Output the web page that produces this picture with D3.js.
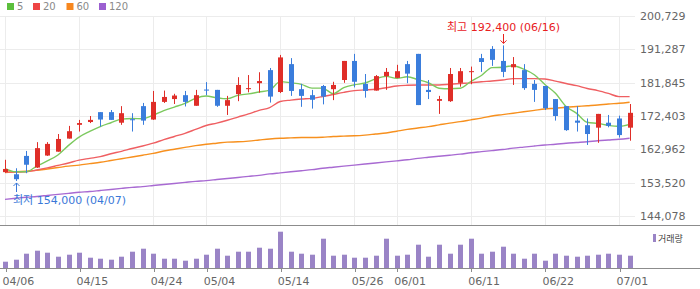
<!DOCTYPE html>
<meta charset="utf-8">
<head>
  <title>Daily candles</title>
</head>

<style>
body {
  margin: 0;
  background: #fff;
}
text {
  font-family: "DejaVu Sans", "Noto Sans CJK KR", sans-serif;
}
.grid line {
  stroke: #ececec;
  shape-rendering: crispEdges;
}
.axis text {
  fill: #666;
  font-size: 11px;
}
.axis path {
  display: none;
}
.axis line {
  stroke: #8c8c8c;
  shape-rendering: crispEdges;
}
.ma {
  fill: none;
  stroke-width: 1.4;
}
</style>

<body>
  <svg id="chart" width="700" height="289"></svg>

  <script src="https://cdnjs.cloudflare.com/ajax/libs/d3/7.8.5/d3.min.js"></script>
  <script>
var dates = ['04/06','04/07','04/08','04/09','04/10','04/13','04/14','04/15','04/16','04/17',
  '04/20','04/21','04/22','04/23','04/24','04/27','04/28','04/29','04/30','05/04',
  '05/06','05/07','05/08','05/11','05/12','05/13','05/14','05/15','05/18','05/19',
  '05/20','05/21','05/22','05/26','05/27','05/28','05/29','06/01','06/02','06/03',
  '06/05','06/08','06/09','06/10','06/11','06/12','06/15','06/16','06/17','06/18',
  '06/19','06/22','06/23','06/24','06/25','06/26','06/29','06/30','07/01','07/02']

var opens = [156500,155900,161100,157800,161200,162300,166000,169900,170700,173500,
  173500,170500,171500,175200,171400,176400,177200,178300,175300,179900,
  179800,175300,178600,180000,181700,185400,179200,187100,180000,178300,
  180900,180000,182600,188000,181500,179600,183700,183200,187100,190000,
  179800,176700,176600,181800,184900,188800,191400,188000,186200,185400,
  181500,180900,177200,175200,171100,169800,169100,170500,171700,169100]

var highs = [160000,157600,162500,165000,165000,167300,169600,171300,172400,173500,
  174100,175200,173200,176100,179500,179600,178700,179500,179800,182000,
  179800,178100,183400,184000,184800,186000,189700,188800,181500,179800,
  181200,182100,188000,190000,184300,184000,186000,186900,188000,190000,
  182600,178100,186000,186000,186400,190000,192200,192400,189100,187100,
  182600,180900,177200,175200,175200,171700,173000,172700,172500,175800]

var lows = [156300,154000,156200,157700,161100,162300,166000,168000,170400,169400,
  171300,169900,168000,169900,171300,176100,175800,175100,175300,178300,
  175000,172700,176600,179100,179000,176200,178900,178100,175000,174500,
  175700,176900,181800,180500,177600,179600,179800,183100,181700,175500,
  177200,173000,176400,180700,181400,184900,186600,183400,181200,179800,
  176400,174100,171100,168200,168000,164200,164800,169200,166300,165400]

var closes = [157400,154500,158600,163300,164500,165900,168100,170400,171300,171400,
  171300,173200,171200,171100,176400,177800,178200,176400,178300,179600,
  175300,176900,181200,180300,182300,177900,189000,179500,178100,177000,
  177900,181200,188000,182100,179500,183700,184900,185100,184400,175500,
  179200,177200,184300,185100,185100,187700,188300,184900,187100,180300,
  179800,174600,172400,168400,170500,167300,173000,169600,167000,173300]

var volumes = [63000,83000,143000,173000,153000,113000,133000,153000,103000,93000,
  83000,113000,163000,193000,143000,93000,93000,73000,93000,133000,
  193000,123000,163000,163000,203000,193000,363000,163000,143000,133000,
  293000,123000,133000,103000,103000,123000,293000,123000,133000,233000,
  113000,233000,143000,233000,293000,143000,163000,213000,143000,93000,
  143000,73000,143000,123000,113000,123000,133000,143000,133000,123000]

var ma5 = [157500,156600,156600,158200,159660,161360,164080,166440,168040,169420,
  170500,171520,171680,171640,172640,173940,174940,175980,177420,178060,
  177560,177300,178260,178660,179200,179720,182140,181800,181360,180300,
  180300,178740,180440,181240,181740,182900,183640,183060,183520,182720,
  181820,180280,180120,180260,182180,183880,186100,186220,186620,185660,
  184080,181340,178840,175100,173140,170640,170320,169760,169480,170040]

var ma20 = [156500,156500,156600,157100,157700,158400,159100,159900,160400,160900,
  161700,162400,163200,163900,164700,165700,166600,167500,168600,169700,
  170400,171200,172100,173000,174000,174800,176500,176900,177200,177400,
  177900,178500,179100,179600,179800,180000,180400,180900,181100,181200,
  181200,181200,181400,181600,181800,182100,182300,182600,183000,183000,
  183000,182900,182300,181600,181000,180200,179600,178800,177900,177900]

var ma60 = [156400,156600,156800,157000,157400,157800,158200,158500,158900,159300,
  159800,160300,160800,161300,161800,162500,163000,163500,164000,164400,
  164700,165000,165100,165300,165600,165900,166100,166200,166300,166300,
  166400,166600,166700,166800,167000,167300,167600,168100,168600,169000,
  169400,169900,170400,170800,171300,171800,172400,172800,173200,173600,
  174000,174400,174600,174900,175100,175300,175500,175800,176000,176300]

var ma120 = [148800,149100,149400,149600,149900,150200,150500,150800,151000,151300,
  151600,151900,152200,152400,152700,153000,153300,153600,153900,154100,
  154400,154700,155000,155300,155600,156000,156300,156600,156900,157200,
  157600,157900,158200,158500,158800,159100,159400,159700,160000,160400,
  160700,161000,161300,161600,162000,162300,162600,162900,163300,163600,
  163900,164200,164400,164700,164900,165100,165400,165600,165800,166100]

var priceTicks = [200729,191287,181845,172403,162962,153520,144078]
var dateTicks = ['04/06','04/15','04/24','05/04','05/14','05/26','06/01','06/11','06/22','07/01']

var maNames = ['5','20','60','120']
var maColors = ['#7cc95e','#ef5f62','#f7901e','#a86ad2']
var legendColors = ['#5cbf3c','#ee4444','#f7871e','#9b5fd0']

var upColor = '#df2e28', downColor = '#3a7ddc', volColor = '#9a84c6'

var svg = d3.select('#chart')

var x = d3.scaleLinear().domain([0, dates.length - 1]).range([5, 629.6])
var y = d3.scaleLinear().domain([144078, 200729]).range([216, 16])
var yv = d3.scaleLinear().domain([0, 430000]).range([268, 225])

var tickIdx = dateTicks.map(function(d) { return dates.indexOf(d) })

// grid
var grid = svg.append('g').attr('class', 'grid')
grid.selectAll('line.h')
  .data(priceTicks)
  .enter().append('line')
  .attr('class', 'h')
  .attr('x1', 0).attr('x2', 635)
  .attr('y1', function(d) { return Math.round(y(d)) + 0.5 })
  .attr('y2', function(d) { return Math.round(y(d)) + 0.5 })
grid.selectAll('line.v')
  .data(tickIdx)
  .enter().append('line')
  .attr('class', 'v')
  .attr('x1', function(d) { return Math.round(x(d)) + 0.5 })
  .attr('x2', function(d) { return Math.round(x(d)) + 0.5 })
  .attr('y1', 16).attr('y2', 225)

// price labels
svg.append('g')
  .attr('class', 'axis')
  .attr('transform', 'translate(635,0)')
  .call(d3.axisRight(y).tickValues(priceTicks).tickFormat(d3.format(',')).tickSize(0).tickPadding(5))

// moving averages
var mas = [ma5, ma20, ma60, ma120]
var line = d3.line()
  .x(function(d, i) { return x(i) })
  .y(function(d) { return y(d) })
  .curve(d3.curveMonotoneX)

svg.append('g').selectAll('path')
  .data([3, 2, 1, 0])
  .enter().append('path')
  .attr('class', 'ma')
  .attr('d', function(k) { return line(mas[k]) })
  .attr('stroke', function(k) { return maColors[k] })

// candles
var candles = svg.append('g').selectAll('g')
  .data(dates.map(function(d, i) { return i }))
  .enter().append('g')

candles.append('line')
  .attr('x1', function(i) { return Math.round(x(i)) + 0.5 })
  .attr('x2', function(i) { return Math.round(x(i)) + 0.5 })
  .attr('y1', function(i) { return y(highs[i]) })
  .attr('y2', function(i) { return y(lows[i]) })
  .attr('stroke', function(i) { return closes[i] >= opens[i] ? upColor : downColor })
  .attr('stroke-width', 1)

candles.append('rect')
  .attr('x', function(i) { return Math.round(x(i)) - 2 })
  .attr('width', 5)
  .attr('y', function(i) { return y(Math.max(opens[i], closes[i])) })
  .attr('height', function(i) { return Math.max(1, Math.abs(y(opens[i]) - y(closes[i]))) })
  .attr('fill', function(i) { return closes[i] >= opens[i] ? upColor : downColor })

// volume
svg.append('g').selectAll('rect')
  .data(volumes)
  .enter().append('rect')
  .attr('x', function(d, i) { return Math.round(x(i)) - 2 })
  .attr('width', 5)
  .attr('y', function(d) { return yv(d) })
  .attr('height', function(d) { return 268 - yv(d) })
  .attr('fill', volColor)

svg.append('line')
  .attr('x1', 0).attr('x2', 700).attr('y1', 225.5).attr('y2', 225.5)
  .attr('stroke', '#8c8c8c')
svg.append('line')
  .attr('x1', 0).attr('x2', 700).attr('y1', 268.5).attr('y2', 268.5)
  .attr('stroke', '#8c8c8c')

var xAxis = svg.append('g')
  .attr('class', 'axis')
  .attr('transform', 'translate(0,268)')
  .call(d3.axisBottom(x).tickValues(tickIdx)
    .tickFormat(function(i) { return dates[i] })
    .tickSize(4).tickPadding(5))
xAxis.selectAll('.tick line').attr('transform', 'translate(0.5,0)')
xAxis.selectAll('text').attr('text-anchor', 'start').attr('x', -3)

// volume legend
svg.append('rect').attr('x', 653).attr('y', 234).attr('width', 3).attr('height', 8).attr('fill', volColor)
svg.append('text').attr('x', 658).attr('y', 241.5)
  .attr('font-size', 9).attr('fill', '#444').text('거래량')

// MA legend
var legX = [7, 33, 66.5, 99]
var leg = svg.append('g').selectAll('g')
  .data(maNames)
  .enter().append('g')
  .attr('transform', function(d, i) { return 'translate(' + legX[i] + ',0)' })
leg.append('rect').attr('y', 3).attr('width', 7).attr('height', 7)
  .attr('fill', function(d, i) { return legendColors[i] })
leg.append('text').attr('x', 10).attr('y', 10)
  .attr('font-size', 10).attr('fill', '#8a8a8a')
  .text(function(d) { return d })

// high / low marks
var hiIdx = d3.maxIndex(highs), loIdx = d3.minIndex(lows)
var hiX = Math.round(x(hiIdx)) + 0.5, loX = Math.round(x(loIdx)) + 0.5

svg.append('text')
  .attr('x', hiX).attr('y', 30.5)
  .attr('text-anchor', 'middle')
  .attr('font-size', 11).attr('fill', '#e8201e')
  .text('최고 ' + d3.format(',')(highs[hiIdx]) + ' (' + dates[hiIdx] + ')')
svg.append('path')
  .attr('d', 'M' + hiX + ',34V' + (y(highs[hiIdx]) - 2) + 'M' + (hiX - 3) + ',' + (y(highs[hiIdx]) - 5) +
    'L' + hiX + ',' + (y(highs[hiIdx]) - 2) + 'L' + (hiX + 3) + ',' + (y(highs[hiIdx]) - 5))
  .attr('fill', 'none').attr('stroke', '#e8201e').attr('stroke-width', 1)

svg.append('text')
  .attr('x', 13).attr('y', 204)
  .attr('font-size', 11).attr('fill', '#3a78d8')
  .text('최저 ' + d3.format(',')(lows[loIdx]) + ' (' + dates[loIdx] + ')')
svg.append('path')
  .attr('d', 'M' + loX + ',' + (y(lows[loIdx]) + 2) + 'V192M' + (loX - 3) + ',' + (y(lows[loIdx]) + 5) +
    'L' + loX + ',' + (y(lows[loIdx]) + 2) + 'L' + (loX + 3) + ',' + (y(lows[loIdx]) + 5))
  .attr('fill', 'none').attr('stroke', '#3a78d8').attr('stroke-width', 1)
  </script>
</body>
</html>
